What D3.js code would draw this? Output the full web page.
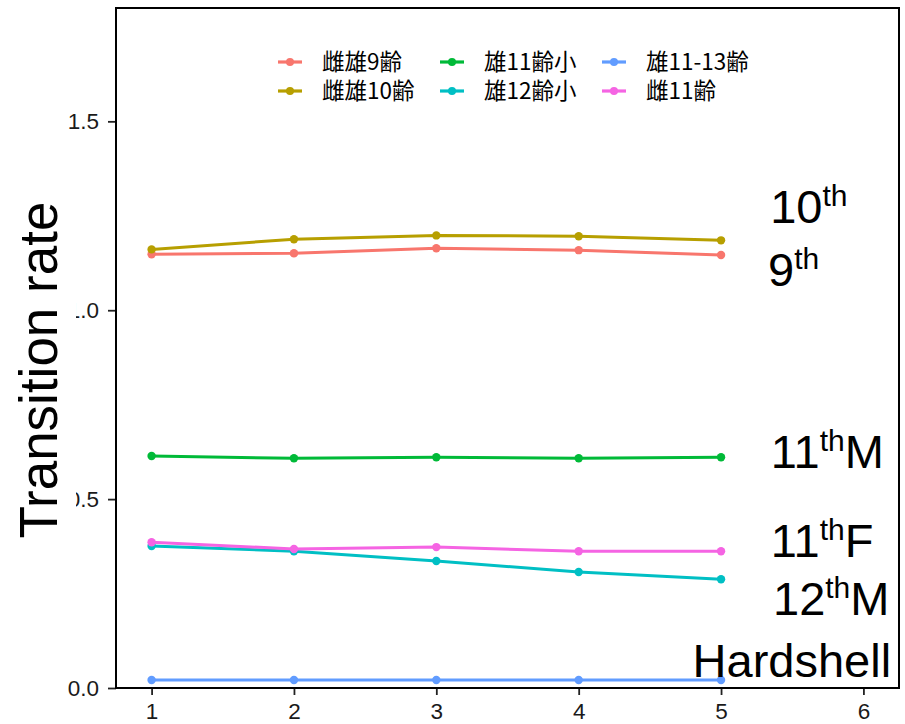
<!DOCTYPE html>
<html><head><meta charset="utf-8">
<script src="https://cdn.jsdelivr.net/npm/d3@7"></script>
<style>
html,body{margin:0;padding:0;background:#fff;}
svg{display:block;}
</style></head>
<body>
<svg id="chart" width="905" height="724"></svg>
<script>
// ---- data ----
const xValues = [1, 2, 3, 4, 5];
const seriesNames = ["雌雄9齢", "雌雄10齢", "雄11齢小", "雄12齢小", "雄11-13齢", "雌11齢"];
const seriesColors = ["#F8766D", "#B79F00", "#00BA38", "#00BFC4", "#619CFF", "#F564E3"];
const values9th   = [1.148, 1.151, 1.164, 1.159, 1.146];
const values10th  = [1.161, 1.188, 1.198, 1.196, 1.185];
const values11M   = [0.614, 0.608, 0.611, 0.608, 0.611];
const values12M   = [0.376, 0.362, 0.336, 0.307, 0.288];
const valuesHard  = [0.021, 0.021, 0.021, 0.021, 0.021];
const values11F   = [0.386, 0.368, 0.373, 0.362, 0.362];
const xTicks = [1, 2, 3, 4, 5, 6];
const yTicks = [0.0, 0.5, 1.0, 1.5];
const yTitle = "Transition rate";
// annotation labels (data coordinates): main text, superscript, trailing text
const annMain  = ["10", "9", "11", "11", "12", "Hardshell"];
const annSup   = ["th", "th", "th", "th", "th", ""];
const annTail  = ["", "", "M", "F", "M", ""];
const annX     = [5.345, 5.33, 5.35, 5.35, 5.365, 4.8];
const annY     = [1.232, 1.063, 0.582, 0.347, 0.193, 0.029];

const series = seriesNames.map((name, i) => ({
  name, color: seriesColors[i],
  values: [values9th, values10th, values11M, values12M, valuesHard, values11F][i]
}));

// ---- layout ----
const svg = d3.select("#chart");
const pLeft = 116, pRight = 899, pTop = 8, pBottom = 688;
const x = d3.scaleLinear().domain([0.75, 6.25]).range([pLeft, pRight]);
const y = d3.scaleLinear().domain([0, 1.8]).range([pBottom, pTop]);
const font = "'Liberation Sans', Arial, sans-serif";
const cjkFont = "'Noto Sans CJK JP', 'Noto Sans CJK SC', sans-serif";

// axes
const gx = svg.append("g").attr("transform", `translate(0,${pBottom})`)
  .call(d3.axisBottom(x).tickValues(xTicks).tickFormat(d3.format("d")).tickSize(7).tickPadding(8));
const gy = svg.append("g").attr("transform", `translate(${pLeft},0)`)
  .call(d3.axisLeft(y).tickValues(yTicks).tickFormat(d3.format(".1f")).tickSize(8).tickPadding(9));
[gx, gy].forEach(g => {
  g.select(".domain").remove();
  g.selectAll(".tick line").attr("stroke", "#222").attr("stroke-width", 1.8);
  g.selectAll(".tick text").attr("fill", "#1a1a1a").style("font-family", font).style("font-size", "22.5px");
});

// panel border
svg.append("rect").attr("x", pLeft).attr("y", pTop)
  .attr("width", pRight - pLeft).attr("height", pBottom - pTop)
  .attr("fill", "none").attr("stroke", "#000").attr("stroke-width", 2);

// lines and points
const line = d3.line().x((d, i) => x(xValues[i])).y(d => y(d));
const sg = svg.append("g");
series.forEach(s => {
  sg.append("path").attr("d", line(s.values)).attr("fill", "none")
    .attr("stroke", s.color).attr("stroke-width", 3);
  sg.selectAll(null).data(s.values).enter().append("circle")
    .attr("cx", (d, i) => x(xValues[i])).attr("cy", d => y(d)).attr("r", 4.2)
    .attr("fill", s.color);
});

// annotations
annMain.forEach((m, i) => {
  const t = svg.append("text").attr("x", x(annX[i])).attr("y", y(annY[i]))
    .style("font-family", font).attr("fill", "#000");
  t.append("tspan").style("font-size", "47px").text(m);
  if (annSup[i]) {
    t.append("tspan").style("font-size", "30px").attr("dy", -17).text(annSup[i]);
    if (annTail[i]) t.append("tspan").style("font-size", "47px").attr("dy", 17).text(annTail[i]);
  }
});

// legend (3 columns x 2 rows, column-major)
const legX = [278, 440, 602], legY = [62, 91];
const lg = svg.append("g");
series.forEach((s, i) => {
  const col = Math.floor(i / 2), row = i % 2;
  const g = lg.append("g").attr("transform", `translate(${legX[col]},${legY[row]})`);
  g.append("line").attr("x1", 0).attr("x2", 24).attr("stroke", s.color).attr("stroke-width", 3.2);
  g.append("circle").attr("cx", 12).attr("r", 4).attr("fill", s.color);
  g.append("text").attr("x", 44).attr("dy", "0.35em").style("font-family", cjkFont)
    .style("font-size", "22.5px").attr("fill", "#000").text(s.name);
});

// y-axis title with white backing (covers part of tick labels as in original)
svg.append("rect").attr("x", 0).attr("y", 188).attr("width", 76).attr("height", 362).attr("fill", "#fff");
svg.append("text").attr("transform", "translate(57,370) rotate(-90)")
  .attr("text-anchor", "middle").style("font-family", font).style("font-size", "53px")
  .attr("fill", "#000").text(yTitle);
</script>
</body></html>
